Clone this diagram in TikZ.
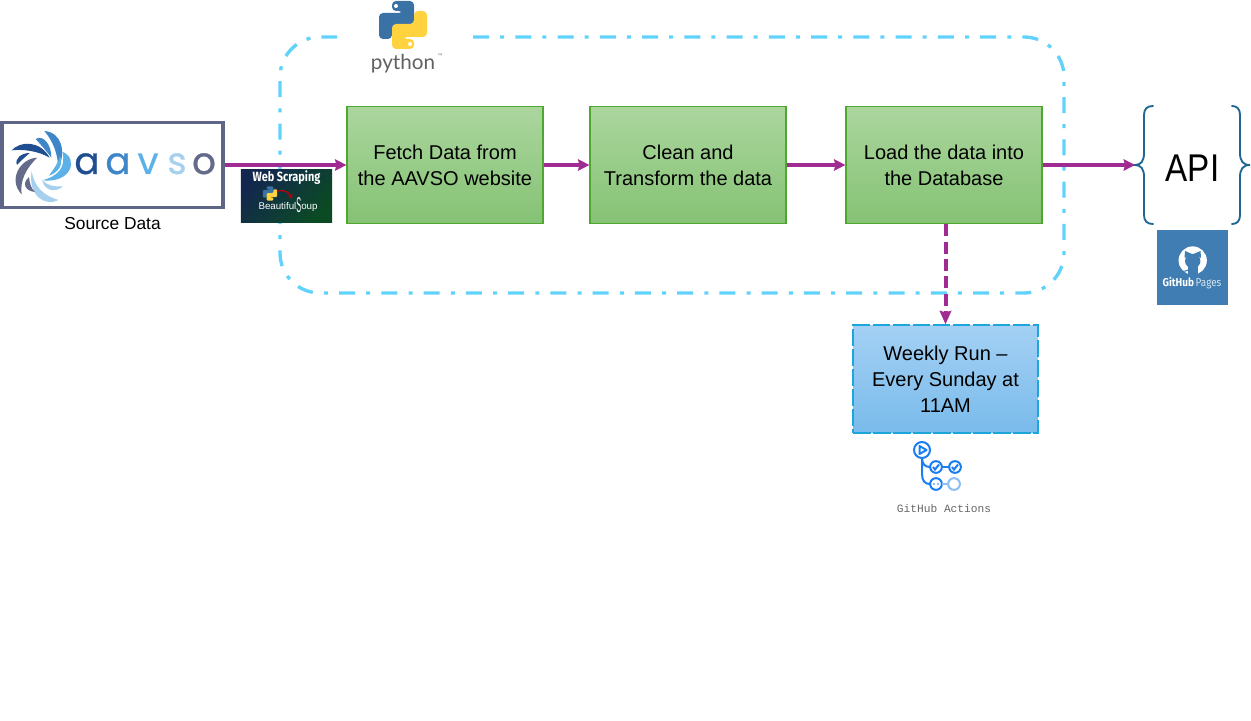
\documentclass[tikz,border=0pt]{standalone}
\usepackage{fontspec}
\usepackage{graphicx}
\usetikzlibrary{arrows.meta,positioning}
\setmainfont{Liberation Sans}
\newfontfamily\pop[FakeBold=0.6]{Poppins}
\newfontfamily\lat{Lato}
\newfontfamily\mon{Liberation Mono}
\newfontfamily\con{Fira Sans}
\definecolor{pipeblue}{HTML}{61D3FA}
\definecolor{arrowpurple}{HTML}{A02B93}
\definecolor{greenedge}{HTML}{4EA72E}
\definecolor{greentop}{HTML}{ABD69E}
\definecolor{greenbot}{HTML}{85C274}
\definecolor{bluetop}{HTML}{A4D0F4}
\definecolor{bluebot}{HTML}{79BBEB}
\definecolor{blueedge}{HTML}{1DA6DB}
\definecolor{aavsoedge}{HTML}{5F6587}
\definecolor{bracecol}{HTML}{1F6690}
\definecolor{pyblue}{HTML}{3A72A6}
\definecolor{pyyellow}{HTML}{FFD23F}
\definecolor{ghblue}{HTML}{3F7DB3}
\definecolor{actblue}{HTML}{1A7EF2}
\definecolor{actlight}{HTML}{8CBDF6}
\definecolor{sw1}{HTML}{1F4E91}
\definecolor{sw2}{HTML}{3D86C8}
\definecolor{sw3}{HTML}{5CB2E8}
\definecolor{sw4}{HTML}{A7D0EE}
\definecolor{sw5}{HTML}{646A8A}
\definecolor{badgenavy}{HTML}{13264F}
\definecolor{badgegreen}{HTML}{0B4B24}
\tikzset{
  x=0.75pt,y=-0.75pt,
  stagebox/.style={draw=greenedge,line width=0.9pt,top color=greentop,bottom color=greenbot,
    minimum width=147pt,minimum height=88pt,inner sep=0pt,align=center,font=\fontsize{15}{19.5}\selectfont},
  flowarrow/.style={draw=arrowpurple,line width=3pt,-{Stealth[length=8.5pt,width=8.5pt,inset=1pt]}},
  pipeline/.style={draw=pipeblue,line width=2.5pt,rounded corners=30pt,
    dash pattern=on 12pt off 8.3pt on 3pt off 8.4pt},
  logoletter/.style={inner sep=0pt,anchor=base,font=\pop\fontsize{28}{28}\selectfont},
  actline/.style={draw=actblue,line width=1.5pt},
  actfaint/.style={draw=actlight,line width=1.5pt},
}
\begin{document}
\begin{tikzpicture}
\useasboundingbox[fill=white] (0,0) rectangle (1251,720);

% dash-dot group
\draw[pipeline] (473,37) -- (1064,37) -- (1064,293) -- (280,293) -- (280,37) -- (337,37);

% python logo
\begin{scope}[shift={(403,25)}]
  \fill[pyblue,rounded corners=3pt] (-11,-24)--(11,-24)--(11,1)--(-11,1)--(-11,14)--(-24,14)--(-24,-12)--(0,-12)--(0,-14)--(-11,-14)--cycle;
  \fill[pyyellow,rounded corners=3pt] (11,24)--(-11,24)--(-11,-1)--(11,-1)--(11,-14)--(24,-14)--(24,12)--(0,12)--(0,14)--(11,14)--cycle;
  \fill[white] (-7,-19) circle[radius=1.5pt];
  \fill[white] (7,19) circle[radius=1.5pt];
\end{scope}
\node[inner sep=0pt,text=black!62,font=\lat\fontsize{15.5}{16}\selectfont] (pytext) at (403,64) {python};
\node[inner sep=0pt,text=black!50,font=\fontsize{4}{4}\selectfont] (pytm) at (440,56) {™};

% AAVSO source
\node[draw=aavsoedge,line width=2.7pt,fill=white,minimum width=166pt,minimum height=64pt,inner sep=0pt] (aavso) at (112.5,165) {};
\begin{scope}[shift={(5,125)},scale=0.3333]
\fill[sw1] (20,76) .. controls (45,48) and (105,45) .. (134,98) .. controls (100,78) and (55,72) .. cycle;
\fill[sw1] (36,120) .. controls (28,100) and (50,84) .. (74,84) .. controls (60,97) and (48,106) .. cycle;
\fill[sw2] (118,18) .. controls (170,22) and (184,80) .. (160,130) .. controls (158,85) and (145,50) .. cycle;
\fill[sw2] (92,42) .. controls (115,28) and (140,60) .. (139,98) .. controls (122,75) and (108,60) .. cycle;
\fill[sw3] (172,80) .. controls (222,100) and (200,176) .. (112,166) .. controls (155,155) and (185,130) .. cycle;
\fill[sw3] (165,92) .. controls (176,120) and (160,142) .. (132,152) .. controls (146,132) and (160,115) .. cycle;
\fill[sw4] (80,138) .. controls (88,188) and (118,212) .. (160,225) .. controls (120,246) and (68,212) .. cycle;
\fill[sw4] (112,166) .. controls (125,180) and (145,186) .. (174,184) .. controls (152,204) and (118,198) .. cycle;
\fill[sw5] (97,98) .. controls (45,100) and (8,165) .. (50,208) .. controls (44,170) and (62,130) .. cycle;
\fill[sw5] (72,156) .. controls (50,175) and (60,198) .. (90,201) .. controls (78,190) and (74,175) .. cycle;
\end{scope}
\node[logoletter,text=sw1] (la1) at (87,174) {a};
\node[logoletter,text=sw2] (la2) at (118,174) {a};
\node[logoletter,text=sw3] (lv) at (148,174) {v};
\node[logoletter,text=sw4] (ls) at (177,174) {s};
\node[logoletter,text=sw5] (lo) at (204,174) {o};
\node[inner sep=0pt,font=\fontsize{13}{15}\selectfont] (src) at (112.5,224) {Source Data};

% stages
\node[stagebox] (fetch) at (445,165) {Fetch Data from\\the AAVSO website};
\node[stagebox] (clean) at (688,165) {Clean and\\Transform the data};
\node[stagebox] (load) at (944,165) {Load the data into\\the Database};
\node[draw=blueedge,line width=1.5pt,dash pattern=on 13pt off 2pt,top color=bluetop,bottom color=bluebot,
  minimum width=138.5pt,minimum height=80.5pt,inner sep=0pt,align=center,font=\fontsize{15}{19.5}\selectfont] (weekly) at (945.5,379) {Weekly Run –\\Every Sunday at\\11AM};

% API
\node[inner sep=0pt,font=\fontsize{29}{29}\selectfont] (api) at (1192.5,168) {\scalebox{0.86}[1]{API}};
\coordinate (apitip) at (1135,165);
\draw[bracecol,line width=1.4pt,line cap=round] (1153,106) .. controls (1147,106) and (1144,109) .. (1144,115) -- (1144,153) .. controls (1144,161) and (1141,165) .. (apitip) .. controls (1141,165) and (1144,169) .. (1144,177) -- (1144,215) .. controls (1144,221) and (1147,224) .. (1153,224);
\draw[bracecol,line width=1.4pt,line cap=round] (1232,106) .. controls (1237,106) and (1240,109) .. (1240,115) -- (1240,153) .. controls (1240,161) and (1243,165) .. (1250,165) .. controls (1243,165) and (1240,169) .. (1240,177) -- (1240,215) .. controls (1240,221) and (1237,224) .. (1232,224);

% connectors
\draw[flowarrow] (aavso.east) -- (fetch.west);
\draw[flowarrow] (fetch.east) -- (clean.west);
\draw[flowarrow] (clean.east) -- (load.west);
\draw[flowarrow] (load.east) -- (apitip);
\draw[flowarrow,dash pattern=on 9pt off 4pt,-{Stealth[length=10pt,width=8.5pt,inset=1pt]}] (load.south -| weekly.north) -- (weekly.north);

% web scraping badge
\node[top color=badgenavy,bottom color=badgegreen,shading angle=45,minimum width=68.5pt,minimum height=39.5pt,inner sep=0pt] (scrape) at (286.5,196) {};
\node[inner sep=0pt,text=white,font=\con\bfseries\fontsize{10}{10}\selectfont] (scrapet) at (286.5,178) {\scalebox{0.82}[1]{Web Scraping}};
\begin{scope}[shift={(270,193.5)},scale=0.3]
  \fill[pyblue,rounded corners=.8pt] (-11,-24)--(11,-24)--(11,1)--(-11,1)--(-11,14)--(-24,14)--(-24,-12)--(0,-12)--(0,-14)--(-11,-14)--cycle;
  \fill[pyyellow,rounded corners=.8pt] (11,24)--(-11,24)--(-11,-1)--(11,-1)--(11,-14)--(24,-14)--(24,12)--(0,12)--(0,14)--(11,14)--cycle;
\end{scope}
\draw[red!75!black,line width=0.9pt,-{Stealth[length=3.5pt,width=3.5pt]}] (278,191) .. controls (284,189.5) and (289,192) .. (292,199);
\node[inner sep=0pt,text=white,font=\fontsize{7.3}{7.5}\selectfont] (soup) at (288,205) {Beautiful\raisebox{-2.4pt}{\scalebox{0.75}[2.2]{S}}oup};

% GitHub Pages
\node[fill=ghblue,minimum width=53pt,minimum height=56pt,inner sep=0pt] (ghpages) at (1192.5,267.5) {};
\fill[white] (1192.7,260.5) circle[radius=10.6pt];
\fill[ghblue] (1192.7,261) ellipse[x radius=5.8pt,y radius=5.4pt];
\fill[ghblue] (1184.5,258) -- (1185,251) -- (1192,254) -- cycle;
\fill[ghblue] (1201,258) -- (1200.5,251) -- (1193.5,254) -- cycle;
\fill[ghblue] (1188,266) rectangle (1197.5,276);
\draw[ghblue,line width=0.8pt] (1179,267) .. controls (1181,272) and (1184,272) .. (1188,270);
\node[inner sep=0pt,text=white,font=\con\fontsize{8.5}{9}\selectfont] (ghtext) at (1192,283) {\scalebox{0.88}[1]{\textbf{GitHub}\,\textcolor{white!80!ghblue}{Pages}}};

% GitHub Actions icon
\draw[actline] (922,450) circle[radius=6pt];
\draw[actline,line join=round] (919.5,446) -- (926.5,450) -- (919.5,454) -- cycle;
\draw[actline] (922,458) -- (922,474) .. controls (922,481) and (925,484) .. (930,484);
\draw[actline] (922,458) .. controls (922,464) and (925,467) .. (930,467);
\draw[actline] (936,467) circle[radius=4.4pt];
\draw[actline] (955,467) circle[radius=4.4pt];
\draw[actline] (942,467) -- (949,467);
\draw[actline] (936,484) circle[radius=4.4pt];
\draw[actfaint] (954,484) circle[radius=4.4pt];
\draw[actfaint] (942,484) -- (948,484);
\draw[actline] (933,467) -- (935,469.5) -- (939,464.5);
\draw[actline] (952,467) -- (954,469.5) -- (958,464.5);
\fill[actblue] (934,484) circle[radius=.7pt] (938,484) circle[radius=.7pt];
\node[inner sep=0pt,text=black!60,font=\mon\fontsize{8.4}{9}\selectfont] (acttext) at (944,508) {GitHub Actions};
\end{tikzpicture}
\end{document}
